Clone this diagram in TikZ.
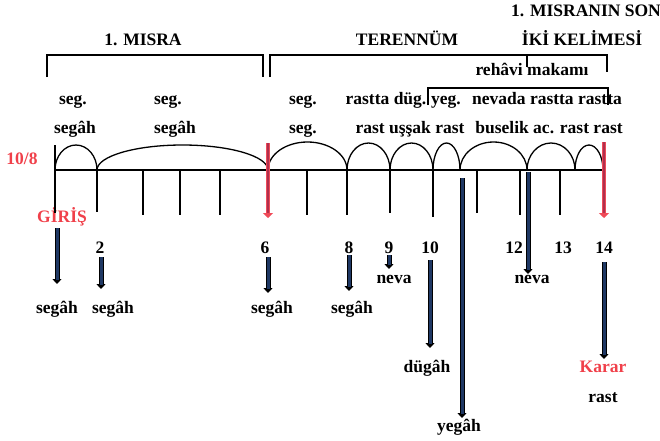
\documentclass[tikz,border=0pt]{standalone}
\usepackage{fontspec}
\setmainfont{Liberation Serif}
\usetikzlibrary{arrows.meta}
\definecolor{navyfill}{HTML}{1F3864}
\definecolor{redtext}{HTML}{F0404A}
\definecolor{redout}{HTML}{F04A58}
\definecolor{redin}{HTML}{B0304E}
\tikzset{
  lbl/.style={inner sep=0pt, anchor=base, font=\fontsize{17.5}{21}\selectfont\bfseries},
  redlbl/.style={lbl, text=redtext},
  brack/.style={line width=1.6pt, black},
  tick/.style={line width=1.4pt, black},
  arcline/.style={line width=1.3pt, black},
  blueout/.style={line width=5pt, black, -{Triangle[width=9pt,length=5pt]}},
  bluein/.style={line width=3pt, navyfill, shorten >=4pt},
  redouter/.style={line width=4.6pt, redout, -{Triangle[width=10pt,length=5pt]}},
  redinner/.style={line width=2pt, redin, shorten >=5pt},
}
\begin{document}
\begin{tikzpicture}[x=1pt,y=-1pt]
\useasboundingbox (0,0) rectangle (660,440);
% titles
\node[lbl] (tmisra) at (143,45) {1. MISRA};
\node[lbl] (tteren) at (407,45) {TERENNÜM};
\node[lbl] (tson) at (586,16) {1. MISRANIN SON};
\node[lbl] (tiki) at (582,45) {İKİ KELİMESİ};
\node[lbl] (treh) at (532,75) {rehâvi makamı};
% brackets
\coordinate (b1a) at (47,77); \coordinate (b1b) at (47,55);
\coordinate (b1c) at (263,55); \coordinate (b1d) at (263,77);
\draw[brack] (b1a) -- (b1b) -- (b1c) -- (b1d);
\coordinate (b2a) at (270,77); \coordinate (b2b) at (270,55);
\coordinate (b2c) at (527,55); \coordinate (b2d) at (527,67);
\coordinate (b3c) at (607,55); \coordinate (b3d) at (607,72);
\draw[brack] (b2a) -- (b2b) -- (b2c) -- (b3c) -- (b3d);
\draw[line width=2.4pt] (b2c) -- (b2d);
\coordinate (b4a) at (428,105); \coordinate (b4b) at (428,88);
\coordinate (b4c) at (608,88); \coordinate (b4d) at (608,105);
\draw[brack] (b4a) -- (b4b) -- (b4c) -- (b4d);
% row 1
\node[lbl] (r1a) at (73,104) {seg.};
\node[lbl] (r1b) at (168,104) {seg.};
\node[lbl] (r1c) at (303,104) {seg.};
\node[lbl] (r1d) at (386,104) {rastta düg.};
\node[lbl] (r1e) at (446,104) {yeg.};
\node[lbl] (r1f) at (547,104) {nevada rastta rastta};
% row 2
\node[lbl] (r2a) at (75,133) {segâh};
\node[lbl] (r2b) at (175,133) {segâh};
\node[lbl] (r2c) at (303,133) {seg.};
\node[lbl] (r2d) at (410,133) {rast uşşak rast};
\node[lbl] (r2e) at (549,133) {buselik ac. rast rast};
% red labels
\node[redlbl] (meter) at (22,164) {10/8};
\node[redlbl] (giris) at (62,222) {GİRİŞ};
% main line
\coordinate (m0) at (55,170); \coordinate (mend) at (603,170);
\draw[tick] (m0) -- (mend);
\coordinate (v0a) at (55,145); \coordinate (v0b) at (55,213);
\draw[line width=2.4pt] (v0a) -- (v0b);
% ticks
\foreach \x/\y in {97/212,143/215,180/215,220/215,307/215,347/215,390/213,433/217,477/213,520/215,560/215}{
  \draw[tick] (\x,170) -- (\x,\y);
}
% arcs
\foreach \a/\b/\h in {55/97/25,97/268/25,268/347/28,347/390/27,390/433/27,433/460/27,460/527/28,527/575/27,575/603/25}{
  \pgfmathsetmacro\r{(\b-\a)/2}
  \draw[arcline] (\a,170) arc[start angle=180,end angle=0,x radius=\r pt,y radius=\h pt];
}
% red arrows
\coordinate (ra1) at (268,143); \coordinate (ra2) at (268,218);
\draw[redouter] (ra1) -- (ra2);
\draw[redinner] (ra1) -- (ra2);
\coordinate (rb1) at (604,142); \coordinate (rb2) at (604,218);
\draw[redouter] (rb1) -- (rb2);
\draw[redinner] (rb1) -- (rb2);
% numbers
\node[lbl] (n2) at (100,253) {2};
\node[lbl] (n6) at (265,253) {6};
\node[lbl] (n8) at (349,253) {8};
\node[lbl] (n9) at (389,253) {9};
\node[lbl] (n10) at (430,253) {10};
\node[lbl] (n12) at (514,253) {12};
\node[lbl] (n13) at (563,253) {13};
\node[lbl] (n14) at (604,253) {14};
% bottom labels
\node[lbl] (l0) at (57,313) {segâh};
\node[lbl] (l2) at (113,313) {segâh};
\node[lbl] (l6) at (272,313) {segâh};
\node[lbl] (l8) at (352,313) {segâh};
\node[lbl] (l9) at (394,283) {neva};
\node[lbl] (l10) at (427,372) {dügâh};
\node[lbl] (l11) at (459,431) {yegâh};
\node[lbl] (l12) at (532,283) {neva};
\node[redlbl] (karar) at (603,372) {Karar};
\node[lbl] (lrast) at (603,402) {rast};
% blue arrows
\foreach \n/\x/\ya/\yb in {0/57/228/284,2/101/257/289,6/268/257/293,8/349/255/291,9/389/255/269,10/430/260/348,11/462/178/418,12/528/172/274,14/604/262/359}{
  \coordinate (s\n) at (\x,\ya);
  \coordinate (e\n) at (\x,\yb);
  \draw[blueout] (s\n) -- (e\n);
  \draw[bluein] (s\n) -- (e\n);
}
\end{tikzpicture}
\end{document}
